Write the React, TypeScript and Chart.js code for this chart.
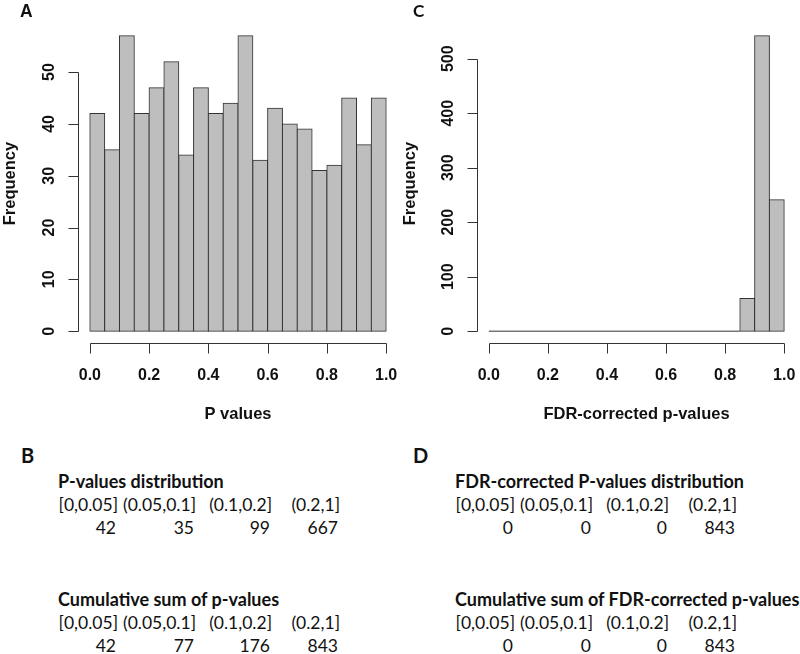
import React, { useEffect, useRef } from "react";
import { Chart, registerables } from "chart.js";

Chart.register(...registerables);

// ---------- data ----------
const binEdges = [0, 0.05, 0.1, 0.15, 0.2, 0.25, 0.3, 0.35, 0.4, 0.45, 0.5, 0.55, 0.6, 0.65, 0.7, 0.75, 0.8, 0.85, 0.9, 0.95, 1.0];
const pValueCounts = [42, 35, 57, 42, 47, 52, 34, 47, 42, 44, 57, 33, 43, 40, 39, 31, 32, 45, 36, 45];
const fdrCounts = [0, 0, 0, 0, 0, 0, 0, 0, 0, 0, 0, 0, 0, 0, 0, 0, 0, 60, 542, 241];
const xTickValues = [0, 0.2, 0.4, 0.6, 0.8, 1.0];
const yTicksA = [0, 10, 20, 30, 40, 50];
const yTicksC = [0, 100, 200, 300, 400, 500];

const intervalLabels = ["[0,0.05]", "(0.05,0.1]", "(0.1,0.2]", "(0.2,1]"];
const pDistribution = [42, 35, 99, 667];
const pCumulative = [42, 77, 176, 843];
const fdrDistribution = [0, 0, 0, 843];
const fdrCumulative = [0, 0, 0, 843];

// ---------- styles ----------
const AXIS_FONT = 'bold 16px "Liberation Sans", Arial, Helvetica, sans-serif';
const TITLE_FONT = 'bold 16.5px "Liberation Sans", Arial, Helvetica, sans-serif';
const TEXT_FONT = "Lato, 'Noto Sans', sans-serif";
const TEXT_SIZE = 17.5;
const HEAD_SIZE = 18;
const LINE_H = 23.6;
const topFor = (baseline: number, size: number) => baseline - ((LINE_H - 1.2 * size) / 2 + 0.987 * size);

const rAxesPlugin = {
  id: "rAxes",
  afterDraw(chart: any, _args: any, opts: any) {
    const { ctx, chartArea } = chart;
    const xs = chart.scales.x;
    const ys = chart.scales.y;
    const crisp = (v: number) => Math.round(v) + 0.5;
    const xt: number[] = opts.xTicks;
    const yt: number[] = opts.yTicks;
    ctx.save();
    ctx.strokeStyle = "#333";
    ctx.lineWidth = 1;
    ctx.fillStyle = "#111";
    ctx.beginPath();
    const yb = crisp(chartArea.bottom);
    ctx.moveTo(crisp(xs.getPixelForValue(xt[0])), yb);
    ctx.lineTo(crisp(xs.getPixelForValue(xt[xt.length - 1])), yb);
    xt.forEach((v) => {
      const p = crisp(xs.getPixelForValue(v));
      ctx.moveTo(p, yb);
      ctx.lineTo(p, yb + 10);
    });
    const xl = crisp(chartArea.left);
    ctx.moveTo(xl, crisp(ys.getPixelForValue(yt[0])));
    ctx.lineTo(xl, crisp(ys.getPixelForValue(yt[yt.length - 1])));
    yt.forEach((v) => {
      const p = crisp(ys.getPixelForValue(v));
      ctx.moveTo(xl - 10, p);
      ctx.lineTo(xl, p);
    });
    ctx.stroke();

    ctx.font = AXIS_FONT;
    ctx.textAlign = "center";
    ctx.textBaseline = "alphabetic";
    xt.forEach((v) => ctx.fillText(v.toFixed(1), xs.getPixelForValue(v), chartArea.bottom + 37));
    yt.forEach((v) => {
      ctx.save();
      ctx.translate(chartArea.left - 24, ys.getPixelForValue(v));
      ctx.rotate(-Math.PI / 2);
      ctx.fillText(String(v), 0, 0);
      ctx.restore();
    });
    ctx.font = TITLE_FONT;
    ctx.fillText(opts.xTitle, (chartArea.left + chartArea.right) / 2, chartArea.bottom + 75.5);
    ctx.save();
    ctx.translate(15, (chartArea.top + chartArea.bottom) / 2);
    ctx.rotate(-Math.PI / 2);
    ctx.fillText(opts.yTitle, 0, 0);
    ctx.restore();
    ctx.restore();
  },
};

type HistProps = {
  counts: number[];
  yTicks: number[];
  xTitle: string;
  padLeft: number;
  padRight: number;
};

function Histogram({ counts, yTicks, xTitle, padLeft, padRight }: HistProps) {
  const ref = useRef<HTMLCanvasElement | null>(null);
  useEffect(() => {
    if (!ref.current) return;
    const bars = counts.map((c, i) => ({ x: (binEdges[i] + binEdges[i + 1]) / 2, y: c }));
    const datasets: any[] = [
      {
        type: "bar",
        data: bars,
        backgroundColor: "#bebebe",
        borderColor: "#333",
        borderWidth: 1,
        borderSkipped: false,
        inflateAmount: 0.5,
        barPercentage: 1,
        categoryPercentage: 1,
        grouped: false,
      },
    ];
    // zero-count bins are drawn as a flat line on the baseline (as R does)
    const firstNonZero = counts.findIndex((c) => c > 0);
    if (firstNonZero > 0) {
      datasets.push({
        type: "line",
        data: [
          { x: binEdges[0], y: 0 },
          { x: binEdges[firstNonZero], y: 0 },
        ],
        borderColor: "#333",
        borderWidth: 1,
        pointRadius: 0,
        fill: false,
      });
    }
    const xMin = binEdges[0];
    const xMax = binEdges[binEdges.length - 1];
    const xPad = (xMax - xMin) * 0.04;
    const yTop = Math.max(...counts);
    const yPad = yTop * 0.04;
    const chart = new Chart(ref.current, {
      type: "bar",
      data: { datasets },
      options: {
        animation: false,
        responsive: false,
        events: [],
        layout: { padding: { left: padLeft, right: padRight, top: 24, bottom: 97 } },
        scales: {
          x: { type: "linear", min: xMin - xPad, max: xMax + xPad, offset: false, display: false },
          y: { type: "linear", min: -yPad, max: yTop + yPad, display: false },
        },
        plugins: {
          legend: { display: false },
          tooltip: { enabled: false },
          rAxes: { xTicks: xTickValues, yTicks, xTitle, yTitle: "Frequency" },
        } as any,
      },
      plugins: [rAxesPlugin],
    } as any);
    return () => chart.destroy();
  }, []);
  return <canvas ref={ref} width={400} height={440} style={{ display: "block", width: 400, height: 440 }} />;
}

type BlockProps = { left: number; baselines: number[]; title: string; values: number[] };

function StatsBlock({ left, baselines, title, values }: BlockProps) {
  const line = (b: number, size: number): React.CSSProperties => ({
    position: "absolute",
    left,
    top: topFor(b, size),
    height: LINE_H,
    lineHeight: `${LINE_H}px`,
    fontFamily: TEXT_FONT,
    fontSize: size,
    color: "#111",
    whiteSpace: "nowrap",
  });
  const grid: React.CSSProperties = {
    display: "grid",
    gridTemplateColumns: "60px 78px 76px 68px",
  };
  return (
    <>
      <div style={{ ...line(baselines[0], HEAD_SIZE), fontWeight: 700 }}>{title}</div>
      <div style={{ ...line(baselines[1], TEXT_SIZE), ...grid }}>
        {intervalLabels.map((l) => (
          <span key={l} style={{ textAlign: "right" }}>{l}</span>
        ))}
      </div>
      <div style={{ ...line(baselines[2], TEXT_SIZE), ...grid }}>
        {values.map((v, i) => (
          <span key={i} style={{ textAlign: "right", paddingRight: 2 }}>{v}</span>
        ))}
      </div>
    </>
  );
}

export default function App() {
  const letter = (ch: string, left: number, top: number, font: string, size: number): React.ReactNode => (
    <div
      style={{
        position: "absolute",
        left,
        top,
        fontFamily: font,
        fontSize: size,
        lineHeight: `${size}px`,
        fontWeight: 700,
        color: "#111",
      }}
    >
      {ch}
    </div>
  );
  return (
    <div style={{ position: "absolute", left: 0, top: 0, width: 800, height: 654, background: "#fff", overflow: "hidden" }}>
      <div style={{ position: "absolute", left: 0, top: 0 }}>
        <Histogram counts={pValueCounts} yTicks={yTicksA} xTitle="P values" padLeft={78} padRight={2} />
      </div>
      <div style={{ position: "absolute", left: 400, top: 0 }}>
        <Histogram counts={fdrCounts} yTicks={yTicksC} xTitle="FDR-corrected p-values" padLeft={77} padRight={4} />
      </div>
      {letter("A", 20, 2.5, '"Liberation Sans", Arial, sans-serif', 17.5)}
      {letter("C", 413, 2.2, TEXT_FONT, 17.2)}
      {letter("B", 21, 445, TEXT_FONT, 20)}
      {letter("D", 413, 445, TEXT_FONT, 20)}
      <StatsBlock left={58} baselines={[489, 512, 535]} title="P-values distribution" values={pDistribution} />
      <StatsBlock left={58} baselines={[607, 630, 653]} title="Cumulative sum of p-values" values={pCumulative} />
      <StatsBlock left={455} baselines={[489, 512, 535]} title="FDR-corrected P-values distribution" values={fdrDistribution} />
      <StatsBlock left={455} baselines={[607, 630, 653]} title="Cumulative sum of FDR-corrected p-values" values={fdrCumulative} />
    </div>
  );
}
